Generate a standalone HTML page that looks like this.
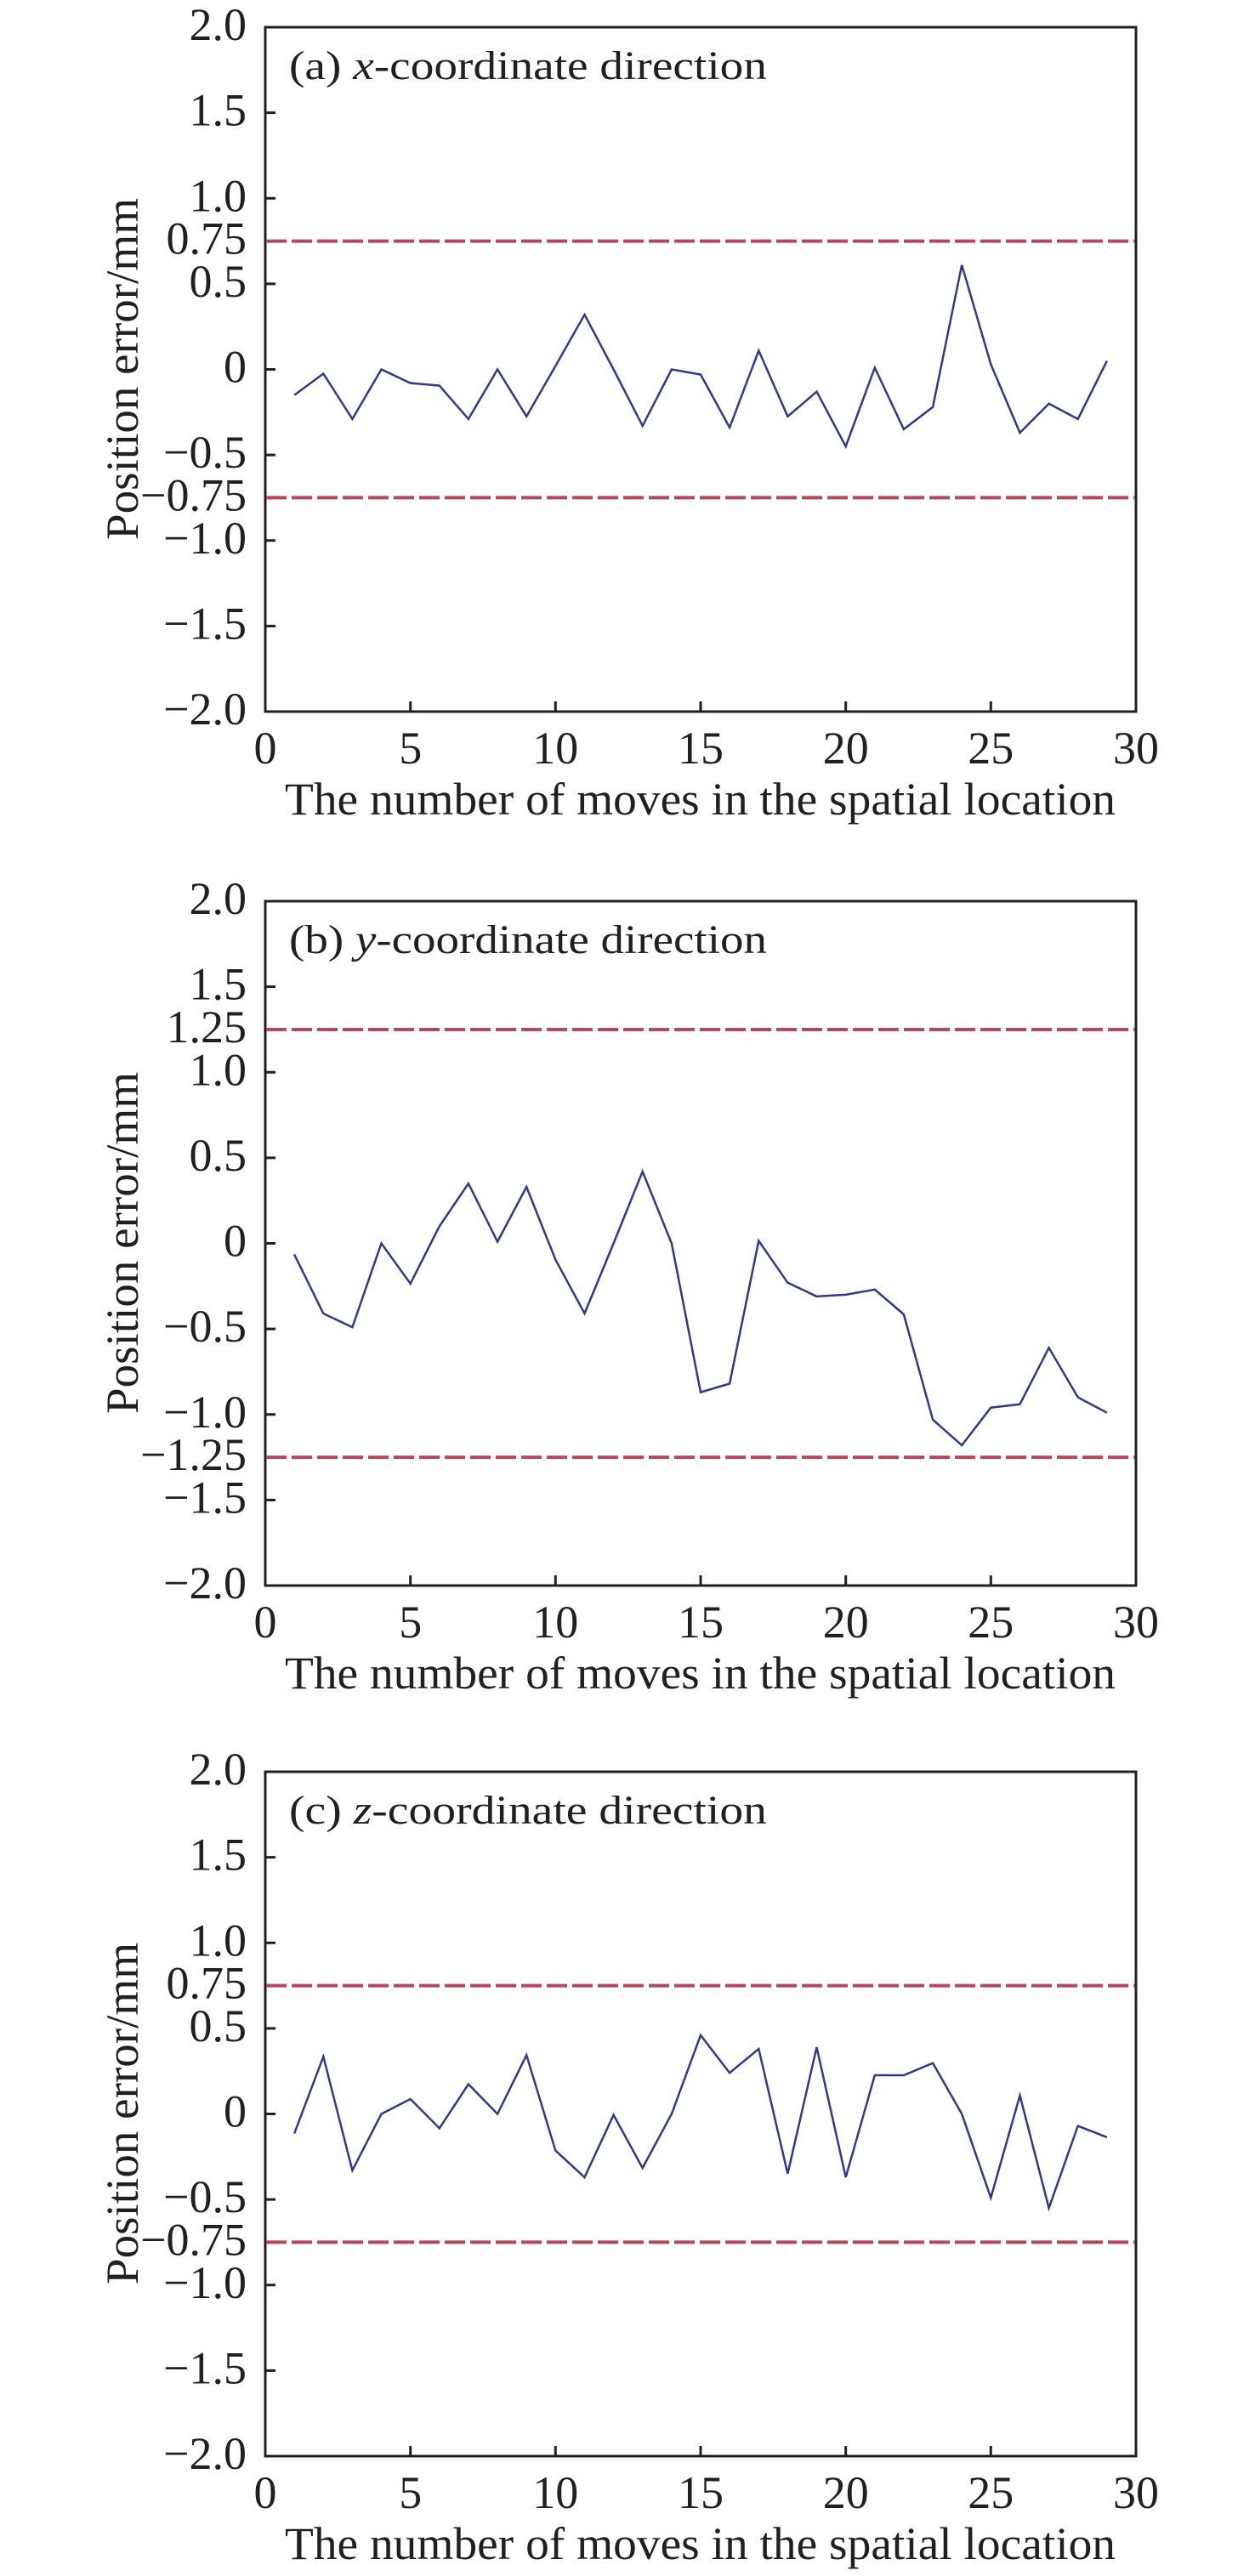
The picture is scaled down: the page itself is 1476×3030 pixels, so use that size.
<!DOCTYPE html>
<html><head><meta charset="utf-8"><style>
html,body{margin:0;padding:0;background:#fff;}
svg{display:block;}
text{font-family:"Liberation Serif",serif;fill:#231f20;}
.t{font-size:54px;text-anchor:end;}
.xt{font-size:54px;text-anchor:middle;}
.ax{font-size:54px;}
.ti{font-size:48px;}
</style></head><body>
<svg width="1476" height="3030" viewBox="0 0 1476 3030" xmlns="http://www.w3.org/2000/svg">
<defs>
<g id="frame">
<rect x="312" y="0" width="1024" height="805" fill="none" stroke="#231f20" stroke-width="3"/>
<path d="M312 100.6h12M312 201.25h12M312 301.9h12M312 402.5h12M312 503.1h12M312 603.75h12M312 704.4h12
M482.7 805v-12M653.3 805v-12M824 805v-12M994.7 805v-12M1165.3 805v-12" stroke="#231f20" stroke-width="3"/>
</g>
</defs>

<!-- Panel a -->
<g transform="translate(0,32)">
<use href="#frame"/>
<line x1="313" y1="251.6" x2="1335" y2="251.6" stroke="#b5485f" stroke-width="4" stroke-dasharray="24 6"/>
<line x1="313" y1="553.4" x2="1335" y2="553.4" stroke="#b5485f" stroke-width="4" stroke-dasharray="24 6"/>
<polyline fill="none" stroke="#2e3a8c" stroke-width="2.5" points="346.1,432.7 380.3,407.5 414.4,460.9 448.5,402.5 482.7,418.6 516.8,421.6 550.9,460.9 585.1,402.5 619.2,457.8 653.3,398.5 687.5,338.1 721.6,402.5 755.7,468.9 789.9,402.5 824,408.5 858.1,470.9 892.3,380.4 926.4,457.8 960.5,428.7 994.7,493.1 1028.8,400.5 1062.9,472.9 1097.1,446.8 1131.2,279.7 1165.3,396.5 1199.5,477 1233.6,442.8 1267.7,460.9 1301.9,392.4"/>
<text class="t" x="290" y="15">2.0</text>
<text class="t" x="290" y="115.6">1.5</text>
<text class="t" x="290" y="216.25">1.0</text>
<text class="t" x="290" y="266.6">0.75</text>
<text class="t" x="290" y="316.9">0.5</text>
<text class="t" x="290" y="417.5">0</text>
<text class="t" x="290" y="518.1">−0.5</text>
<text class="t" x="290" y="568.4">−0.75</text>
<text class="t" x="290" y="618.75">−1.0</text>
<text class="t" x="290" y="719.4">−1.5</text>
<text class="t" x="290" y="820">−2.0</text>
<text class="xt" x="312" y="866">0</text><text class="xt" x="482.7" y="866">5</text><text class="xt" x="653.3" y="866">10</text><text class="xt" x="824" y="866">15</text><text class="xt" x="994.7" y="866">20</text><text class="xt" x="1165.3" y="866">25</text><text class="xt" x="1336" y="866">30</text>
<text class="ax" x="335" y="926" textLength="977" lengthAdjust="spacingAndGlyphs">The number of moves in the spatial location</text>
<text class="ax" transform="translate(162,603) rotate(-90)" textLength="402" lengthAdjust="spacingAndGlyphs">Position error/mm</text>
<text class="ti" x="340" y="61" textLength="562" lengthAdjust="spacingAndGlyphs">(a) <tspan font-style="italic">x</tspan>-coordinate direction</text>
</g>

<!-- Panel b -->
<g transform="translate(0,1060)">
<use href="#frame"/>
<line x1="313" y1="151" x2="1335" y2="151" stroke="#b5485f" stroke-width="4" stroke-dasharray="24 6"/>
<line x1="313" y1="654.1" x2="1335" y2="654.1" stroke="#b5485f" stroke-width="4" stroke-dasharray="24 6"/>
<polyline fill="none" stroke="#2e3a8c" stroke-width="2.5" points="346.1,415.4 380.3,485 414.4,501.1 448.5,402.5 482.7,449.8 516.8,382.4 550.9,332.1 585.1,400.5 619.2,336.1 653.3,421.6 687.5,485 721.6,402.5 755.7,318 789.9,402.5 824,577.6 858.1,567.5 892.3,399.5 926.4,448.8 960.5,464.9 994.7,462.9 1028.8,456.8 1062.9,486 1097.1,609.8 1131.2,640 1165.3,595.7 1199.5,591.7 1233.6,525.3 1267.7,583.6 1301.9,601.7"/>
<text class="t" x="290" y="15">2.0</text>
<text class="t" x="290" y="115.6">1.5</text>
<text class="t" x="290" y="166">1.25</text>
<text class="t" x="290" y="216.25">1.0</text>
<text class="t" x="290" y="316.9">0.5</text>
<text class="t" x="290" y="417.5">0</text>
<text class="t" x="290" y="518.1">−0.5</text>
<text class="t" x="290" y="618.75">−1.0</text>
<text class="t" x="290" y="669.1">−1.25</text>
<text class="t" x="290" y="719.4">−1.5</text>
<text class="t" x="290" y="820">−2.0</text>
<text class="xt" x="312" y="866">0</text><text class="xt" x="482.7" y="866">5</text><text class="xt" x="653.3" y="866">10</text><text class="xt" x="824" y="866">15</text><text class="xt" x="994.7" y="866">20</text><text class="xt" x="1165.3" y="866">25</text><text class="xt" x="1336" y="866">30</text>
<text class="ax" x="335" y="926" textLength="977" lengthAdjust="spacingAndGlyphs">The number of moves in the spatial location</text>
<text class="ax" transform="translate(162,603) rotate(-90)" textLength="402" lengthAdjust="spacingAndGlyphs">Position error/mm</text>
<text class="ti" x="340" y="61" textLength="562" lengthAdjust="spacingAndGlyphs">(b) <tspan font-style="italic">y</tspan>-coordinate direction</text>
</g>

<!-- Panel c -->
<g transform="translate(0,2084)">
<use href="#frame"/>
<line x1="313" y1="251.6" x2="1335" y2="251.6" stroke="#b5485f" stroke-width="4" stroke-dasharray="24 6"/>
<line x1="313" y1="553.4" x2="1335" y2="553.4" stroke="#b5485f" stroke-width="4" stroke-dasharray="24 6"/>
<polyline fill="none" stroke="#2e3a8c" stroke-width="2.5" points="346.1,425.6 380.3,335.1 414.4,468.9 448.5,402.5 482.7,385 516.8,419.4 550.9,367.5 585.1,402.5 619.2,333.3 653.3,445.6 687.5,477 721.6,403.7 755.7,466.1 789.9,402.5 824,309.9 858.1,354.2 892.3,326 926.4,472.9 960.5,324 994.7,477 1028.8,357 1062.9,357 1097.1,342.7 1131.2,402.5 1165.3,501.1 1199.5,380.8 1233.6,513.2 1267.7,416.6 1301.9,429.9"/>
<text class="t" x="290" y="15">2.0</text>
<text class="t" x="290" y="115.6">1.5</text>
<text class="t" x="290" y="216.25">1.0</text>
<text class="t" x="290" y="266.6">0.75</text>
<text class="t" x="290" y="316.9">0.5</text>
<text class="t" x="290" y="417.5">0</text>
<text class="t" x="290" y="518.1">−0.5</text>
<text class="t" x="290" y="568.4">−0.75</text>
<text class="t" x="290" y="618.75">−1.0</text>
<text class="t" x="290" y="719.4">−1.5</text>
<text class="t" x="290" y="820">−2.0</text>
<text class="xt" x="312" y="866">0</text><text class="xt" x="482.7" y="866">5</text><text class="xt" x="653.3" y="866">10</text><text class="xt" x="824" y="866">15</text><text class="xt" x="994.7" y="866">20</text><text class="xt" x="1165.3" y="866">25</text><text class="xt" x="1336" y="866">30</text>
<text class="ax" x="335" y="926" textLength="977" lengthAdjust="spacingAndGlyphs">The number of moves in the spatial location</text>
<text class="ax" transform="translate(162,603) rotate(-90)" textLength="402" lengthAdjust="spacingAndGlyphs">Position error/mm</text>
<text class="ti" x="340" y="61" textLength="562" lengthAdjust="spacingAndGlyphs">(c) <tspan font-style="italic">z</tspan>-coordinate direction</text>
</g>
</svg>
</body></html>
